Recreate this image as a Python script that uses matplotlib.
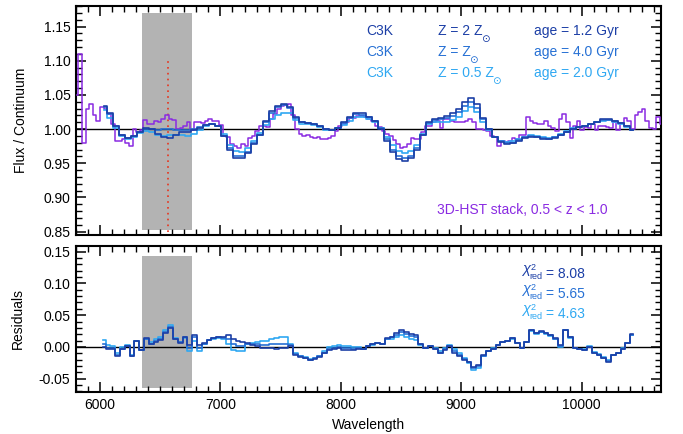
import numpy as np
import matplotlib
matplotlib.use('Agg')
import matplotlib.pyplot as plt
from matplotlib.ticker import MultipleLocator, FormatStrFormatter

plt.rcParams['font.family'] = ['Liberation Sans', 'DejaVu Sans']

# --- 3D-HST stack (bin centres every 30 A from 5805) ---
stack_wave = np.arange(5805, 10666, 30)
stack_flux = [
    1.050, 1.110, 0.980, 1.030, 1.036, 1.020, 1.012, 1.032, 1.030, 1.022,
    1.008, 0.983, 0.982, 0.985, 0.980, 0.975, 1.000, 0.996, 0.998, 1.013,
    1.007, 1.008, 1.012, 1.011, 1.014, 1.021, 1.014, 1.013, 1.000, 1.001,
    1.004, 1.010, 0.999, 1.010, 1.011, 1.009, 1.012, 1.014, 1.012, 1.012,
    1.006, 0.990, 0.988, 0.978, 0.975, 0.973, 0.978, 0.975, 0.987, 0.990,
    0.997, 1.004, 1.005, 1.003, 1.014, 1.022, 1.030, 1.034, 1.035, 1.037,
    1.020, 1.000, 0.993, 0.990, 0.991, 0.988, 0.987, 0.989, 0.985, 0.985,
    0.987, 0.990, 0.997, 1.004, 1.008, 1.010, 1.016, 1.016, 1.019, 1.019,
    1.018, 1.015, 1.012, 1.004, 1.003, 0.997, 0.993, 0.990, 0.984, 0.978,
    0.973, 0.974, 0.978, 0.987, 0.986, 0.985, 0.996, 1.004, 1.004, 1.011,
    1.012, 1.002, 1.014, 1.015, 1.012, 1.010, 1.010, 1.011, 1.012, 1.014,
    1.010, 1.000, 1.000, 0.998, 0.997, 0.990, 0.988, 0.975, 0.982, 0.981,
    0.983, 0.987, 0.986, 0.992, 0.991, 1.017, 1.012, 1.009, 1.008, 1.008,
    1.012, 1.004, 1.001, 0.997, 1.014, 1.022, 1.010, 0.987, 1.004, 1.012,
    0.998, 1.003, 1.002, 1.008, 0.998, 1.005, 1.005, 1.003, 1.002, 1.010,
    0.998, 1.009, 1.016, 1.012, 1.000, 1.021, 1.025, 1.029, 1.012, 1.002,
    1.000, 1.017, 1.008,
]

# --- C3K models (every 50 A from 6030) ---
model_wave = np.arange(6030, 10431, 50)
model_z2 = [
    1.034, 1.024, 1.005, 0.991, 0.987, 0.990, 0.996, 1.001, 1.000, 0.993,
    0.988, 0.987, 0.991, 0.995, 0.996, 0.998, 1.002, 1.006, 1.008, 1.004,
    0.990, 0.970, 0.958, 0.957, 0.965, 0.978, 0.992, 1.012, 1.026, 1.034,
    1.037, 1.033, 1.017, 1.011, 1.009, 1.008, 1.005, 1.000, 0.998, 1.002,
    1.010, 1.018, 1.024, 1.023, 1.018, 1.012, 1.000, 0.983, 0.966, 0.956,
    0.953, 0.957, 0.970, 0.992, 1.010, 1.014, 1.016, 1.019, 1.023, 1.030,
    1.040, 1.045, 1.036, 1.016, 1.000, 0.988, 0.981, 0.978, 0.979, 0.983,
    0.987, 0.989, 0.988, 0.986, 0.985, 0.987, 0.991, 0.996, 1.000, 1.003,
    1.005, 1.008, 1.011, 1.014, 1.014, 1.012, 1.009, 1.004, 0.999,
]
model_z1 = [
    1.033, 1.022, 1.004, 0.991, 0.987, 0.990, 0.996, 1.000, 1.000, 0.999,
    1.000, 1.000, 0.999, 0.999, 0.999, 1.000, 1.003, 1.006, 1.008, 1.004,
    0.990, 0.972, 0.961, 0.960, 0.967, 0.979, 0.992, 1.010, 1.024, 1.032,
    1.035, 1.031, 1.016, 1.011, 1.009, 1.008, 1.005, 1.000, 0.999, 1.002,
    1.009, 1.016, 1.022, 1.021, 1.017, 1.012, 1.001, 0.985, 0.970, 0.961,
    0.958, 0.961, 0.972, 0.992, 1.009, 1.013, 1.014, 1.016, 1.019, 1.025,
    1.034, 1.040, 1.031, 1.014, 1.000, 0.989, 0.982, 0.979, 0.980, 0.984,
    0.988, 0.990, 0.989, 0.987, 0.986, 0.988, 0.992, 0.996, 1.000, 1.003,
    1.005, 1.007, 1.010, 1.013, 1.013, 1.012, 1.009, 1.004, 0.999,
]
model_z05 = [
    1.028, 1.016, 1.002, 0.990, 0.986, 0.989, 0.994, 0.997, 0.995, 0.992,
    0.990, 0.991, 0.992, 0.991, 0.990, 0.993, 0.999, 1.004, 1.007, 1.005,
    0.993, 0.976, 0.968, 0.967, 0.973, 0.983, 0.994, 1.006, 1.015, 1.021,
    1.024, 1.023, 1.013, 1.008, 1.007, 1.006, 1.003, 0.999, 0.998, 1.001,
    1.006, 1.012, 1.017, 1.018, 1.015, 1.011, 1.002, 0.988, 0.976, 0.968,
    0.965, 0.968, 0.977, 0.993, 1.007, 1.010, 1.010, 1.011, 1.013, 1.017,
    1.026, 1.033, 1.025, 1.010, 0.999, 0.989, 0.983, 0.981, 0.982, 0.985,
    0.989, 0.991, 0.990, 0.988, 0.987, 0.989, 0.993, 0.997, 1.001, 1.003,
    1.005, 1.007, 1.010, 1.012, 1.013, 1.011, 1.008, 1.003, 0.999,
]

# --- residuals (every 40 A from 6025) ---
resid_wave = np.arange(6025, 10426, 40)
resid_z2 = [
    0.000, -0.003, -0.004, -0.015, -0.004, 0.001, -0.015, 0.010, -0.005, 0.014,
    0.004, 0.008, 0.011, 0.022, 0.030, 0.012, 0.006, 0.016, 0.003, 0.019,
    0.003, 0.006, 0.011, 0.014, 0.015, 0.016, 0.018, 0.013, 0.009, 0.008,
    0.006, 0.003, 0.002, -0.001, -0.002, -0.002, -0.003, -0.002, -0.002, 0.002,
    -0.012, -0.016, -0.018, -0.021, -0.019, -0.016, -0.010, -0.005, -0.004, -0.002,
    -0.005, -0.005, -0.005, -0.004, -0.003, 0.002, 0.004, 0.006, 0.005, 0.014,
    0.016, 0.022, 0.027, 0.024, 0.021, 0.018, 0.004, -0.002, 0.001, -0.003,
    -0.010, -0.005, 0.002, -0.010, -0.015, -0.020, -0.023, -0.031, -0.028, -0.013,
    -0.006, -0.003, 0.003, 0.008, 0.010, 0.014, 0.006, -0.002, 0.008, 0.027,
    0.022, 0.025, 0.022, 0.019, 0.014, 0.003, 0.027, 0.016, -0.002, -0.003,
    -0.005, 0.000, -0.010, -0.013, -0.018, -0.024, -0.013, -0.010, -0.003, 0.006,
    0.020,
]
resid_z1 = [
    0.004, -0.001, -0.002, -0.013, -0.003, 0.002, -0.014, 0.010, -0.005, 0.013,
    0.005, 0.010, 0.013, 0.024, 0.032, 0.013, 0.007, 0.015, -0.002, 0.015,
    -0.002, 0.005, 0.011, 0.014, 0.015, 0.014, 0.012, 0.005, 0.002, 0.002,
    0.005, 0.004, 0.004, 0.003, 0.003, 0.004, 0.004, 0.005, 0.005, 0.003,
    -0.011, -0.015, -0.017, -0.020, -0.018, -0.015, -0.009, -0.003, -0.001, 0.000,
    -0.002, -0.002, -0.003, -0.002, -0.003, 0.002, 0.004, 0.006, 0.005, 0.013,
    0.015, 0.019, 0.023, 0.020, 0.017, 0.015, 0.004, -0.002, 0.001, -0.003,
    -0.009, -0.004, 0.002, -0.007, -0.013, -0.019, -0.024, -0.033, -0.030, -0.014,
    -0.006, -0.003, 0.003, 0.008, 0.010, 0.014, 0.006, -0.002, 0.008, 0.026,
    0.022, 0.024, 0.022, 0.018, 0.013, 0.002, 0.027, 0.015, -0.002, -0.003,
    -0.005, 0.000, -0.009, -0.012, -0.017, -0.022, -0.013, -0.010, -0.003, 0.006,
    0.019,
]
resid_z05 = [
    0.011, 0.003, 0.002, -0.010, 0.000, 0.003, -0.012, 0.009, -0.005, 0.012,
    0.007, 0.012, 0.016, 0.026, 0.034, 0.014, 0.008, 0.014, -0.007, 0.010,
    -0.007, 0.004, 0.011, 0.013, 0.014, 0.012, 0.005, -0.005, -0.007, -0.006,
    0.004, 0.006, 0.007, 0.009, 0.010, 0.013, 0.014, 0.016, 0.016, 0.005,
    -0.010, -0.014, -0.016, -0.019, -0.017, -0.014, -0.007, 0.000, 0.002, 0.003,
    0.001, 0.001, 0.000, 0.000, -0.004, 0.001, 0.003, 0.006, 0.004, 0.012,
    0.013, 0.016, 0.019, 0.016, 0.013, 0.011, 0.003, -0.002, 0.001, -0.002,
    -0.007, -0.002, 0.003, -0.004, -0.010, -0.018, -0.025, -0.036, -0.033, -0.015,
    -0.007, -0.002, 0.003, 0.007, 0.010, 0.013, 0.006, -0.001, 0.008, 0.025,
    0.021, 0.023, 0.021, 0.017, 0.012, 0.000, 0.026, 0.014, -0.002, -0.003,
    -0.004, 0.001, -0.008, -0.011, -0.016, -0.020, -0.012, -0.009, -0.002, 0.006,
    0.018,
]

labels_z = ['Z = 2 Z', 'Z = Z', 'Z = 0.5 Z']
labels_age = ['age = 1.2 Gyr', 'age = 4.0 Gyr', 'age = 2.0 Gyr']
chi2 = ['8.08', '5.65', '4.63']

c_dark = '#1c3fa6'
c_med = '#2670d4'
c_light = '#2fa8f2'
c_purple = '#8a2be2'
colors = [c_dark, c_med, c_light]

mask_lo, mask_hi = 6350, 6760
halpha = 6563

fig = plt.figure(figsize=(6.83, 4.34), dpi=100)
ax1 = fig.add_axes([0.1113, 0.4585, 0.8565, 0.5276])
ax2 = fig.add_axes([0.1113, 0.0968, 0.8565, 0.3364])

xlim = (5800, 10660)

# top panel
ax1.fill_between([mask_lo, mask_hi], 0.853, 1.17, color='#b3b3b3', lw=0, zorder=1)
ax1.axhline(1.0, color='black', lw=1.0, zorder=2)
ax1.plot([halpha, halpha], [0.85, 1.10], color='#e8331c', ls=(0, (1, 2.5)), lw=1.2, zorder=2)
ax1.plot(stack_wave, stack_flux, drawstyle='steps-mid', color=c_purple, lw=1.1, zorder=3)
for y, c in zip([model_z05, model_z1, model_z2], [c_light, c_med, c_dark]):
    ax1.plot(model_wave, y, drawstyle='steps-mid', color=c, lw=1.2, zorder=4)
ax1.set_xlim(*xlim)
ax1.set_ylim(0.845, 1.18)
ax1.set_ylabel('Flux / Continuum', fontsize=10)
ax1.yaxis.set_label_coords(-0.082, 0.5)
ax1.yaxis.set_major_locator(MultipleLocator(0.05))
ax1.yaxis.set_minor_locator(MultipleLocator(0.01))
ax1.yaxis.set_major_formatter(FormatStrFormatter('%.2f'))
ax1.tick_params(labelbottom=False)

rows_y = [0.873, 0.782, 0.690]
for i in range(3):
    ax1.text(0.496, rows_y[i], 'C3K', color=colors[i], fontsize=10,
             transform=ax1.transAxes, va='baseline')
    tz = ax1.text(0.619, rows_y[i], labels_z[i], color=colors[i], fontsize=10,
                  transform=ax1.transAxes, va='baseline')
    # solar symbol as subscript
    ax1.annotate('\u2299', xy=(1, 0), xycoords=tz, xytext=(-1.2, -2.6),
                 textcoords='offset points', color=colors[i], fontsize=7.5,
                 va='baseline', ha='left')
    ax1.text(0.783, rows_y[i], labels_age[i], color=colors[i], fontsize=10,
             transform=ax1.transAxes, va='baseline')
ax1.text(0.909, 0.092, '3D-HST stack, 0.5 < z < 1.0', color=c_purple, fontsize=10,
         transform=ax1.transAxes, ha='right', va='baseline')

# bottom panel
ax2.fill_between([mask_lo, mask_hi], -0.065, 0.143, color='#b3b3b3', lw=0, zorder=1)
ax2.axhline(0.0, color='black', lw=1.0, zorder=2)
for y, c in zip([resid_z05, resid_z1, resid_z2], [c_light, c_med, c_dark]):
    ax2.plot(resid_wave, y, drawstyle='steps-mid', color=c, lw=1.2, zorder=4)
ax2.set_xlim(*xlim)
ax2.set_ylim(-0.071, 0.159)
ax2.set_ylabel('Residuals', fontsize=10)
ax2.yaxis.set_label_coords(-0.087, 0.5)
ax2.set_xlabel('Wavelength', fontsize=10)
ax2.xaxis.set_label_coords(0.5, -0.175)
ax2.yaxis.set_major_locator(MultipleLocator(0.05))
ax2.yaxis.set_minor_locator(MultipleLocator(0.01))
ax2.yaxis.set_major_formatter(FormatStrFormatter('%.2f'))

chi_y = [0.815, 0.678, 0.541]
for i in range(3):
    tc = ax2.text(0.762, chi_y[i], '\u03c7', color=colors[i], fontsize=10.5,
                  style='italic', transform=ax2.transAxes, va='baseline')
    ax2.annotate('2', xy=(1, 0), xycoords=tc, xytext=(0.3, 4.6),
                 textcoords='offset points', color=colors[i], fontsize=6.5,
                 va='baseline', ha='left')
    tr = ax2.annotate('red', xy=(1, 0), xycoords=tc, xytext=(0.0, -2.2),
                      textcoords='offset points', color=colors[i], fontsize=6.5,
                      va='baseline', ha='left')
    ax2.annotate('= ' + chi2[i], xy=(1, 0), xycoords=tr, xytext=(2.5, 2.2),
                 textcoords='offset points', color=colors[i], fontsize=10,
                 va='baseline', ha='left')

for ax in (ax1, ax2):
    ax.xaxis.set_major_locator(MultipleLocator(1000))
    ax.xaxis.set_minor_locator(MultipleLocator(100))
    ax.tick_params(which='both', direction='in', top=True, right=True, labelsize=10)
    ax.tick_params(which='major', length=7.5, width=1.1, pad=4)
    ax.tick_params(which='minor', length=4, width=1.0)
    for s in ax.spines.values():
        s.set_linewidth(1.5)

fig.savefig('out.png', dpi=100)
